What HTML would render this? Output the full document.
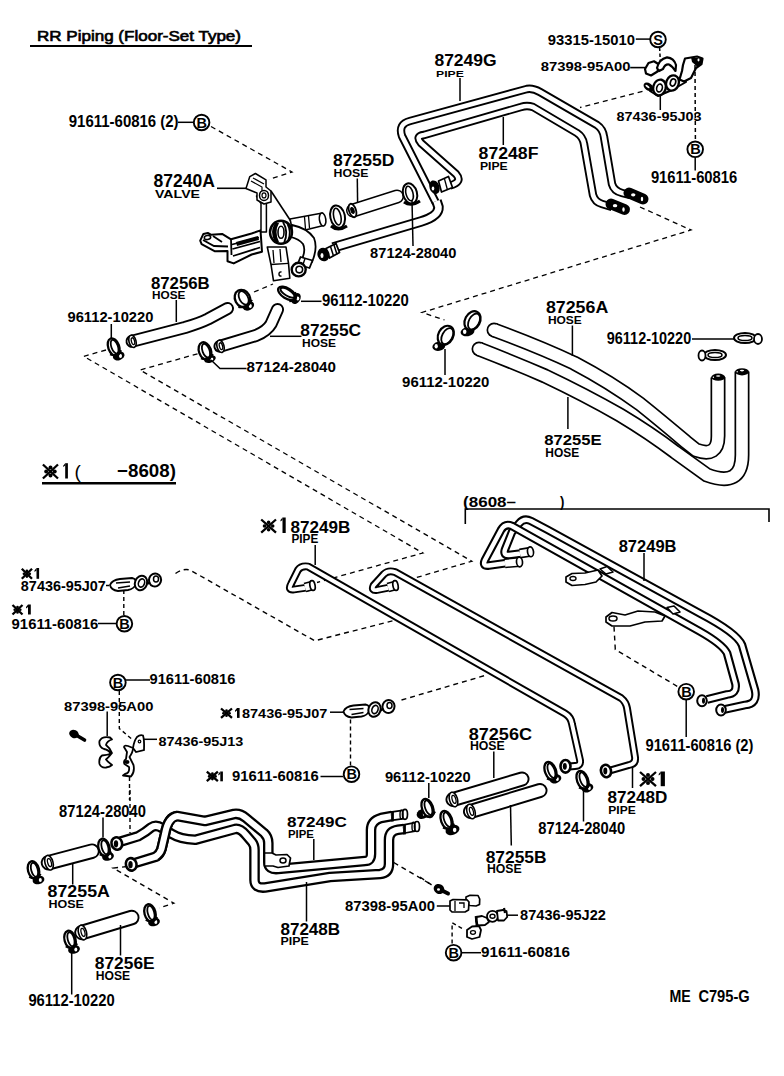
<!DOCTYPE html>
<html><head><meta charset="utf-8"><style>
html,body{margin:0;padding:0;background:#fff;}
body{width:784px;height:1076px;overflow:hidden;position:relative;}
svg{position:absolute;left:0;top:0;}
text{font-family:"Liberation Sans",sans-serif;font-weight:bold;fill:#000;}
.k path{stroke:#000;stroke-width:2.3;fill:none;}
.c{fill:#fff;stroke:#000;stroke-width:1.9;}
.ct{font-size:14.5px;}
</style></head><body>
<svg width="784" height="1076" viewBox="0 0 784 1076">
<g id="art">
<path d="M30 46H252" stroke="#000" stroke-width="2.2" fill="none"/>
<text x="37" y="40.5" font-size="14.8" textLength="204" lengthAdjust="spacingAndGlyphs" style="font-weight:normal;stroke:#000;stroke-width:0.65">RR Piping (Floor-Set Type)</text>
<path d="M436,203 L402,136 Q398,124 410,121 L527,89 Q533,88 540,92 L597,125 Q603,129 604,137 L612,184 Q614,191 622,193 L630,195" stroke="#000" stroke-width="8.4" fill="none" stroke-linejoin="round" stroke-linecap="butt"/>
<path d="M436,203 L402,136 Q398,124 410,121 L527,89 Q533,88 540,92 L597,125 Q603,129 604,137 L612,184 Q614,191 622,193 L630,195" stroke="#fff" stroke-width="4.6" fill="none" stroke-linejoin="round" stroke-linecap="butt"/>
<path d="M450,185.5 Q463,182 456,174 L421,143 Q415,136 424,135 L521,107 Q527,105 533,107 L577,133 Q583,137 584,144 L593,195 Q595,202 602,204 L612,207" stroke="#000" stroke-width="8.4" fill="none" stroke-linejoin="round" stroke-linecap="butt"/>
<path d="M450,185.5 Q463,182 456,174 L421,143 Q415,136 424,135 L521,107 Q527,105 533,107 L577,133 Q583,137 584,144 L593,195 Q595,202 602,204 L612,207" stroke="#fff" stroke-width="4.6" fill="none" stroke-linejoin="round" stroke-linecap="butt"/>
<path d="M333,247.5 L421,221.5 Q439,216 438.5,207 L436.5,201" stroke="#000" stroke-width="10.5" fill="none" stroke-linejoin="round" stroke-linecap="butt"/>
<path d="M333,247.5 L421,221.5 Q439,216 438.5,207 L436.5,201" stroke="#fff" stroke-width="6.6" fill="none" stroke-linejoin="round" stroke-linecap="butt"/>
<path d="M217,188.3 H247" stroke="#000" stroke-width="1.6" fill="none"/>
<path d="M203.4,233.9 L207.8,233 L211.4,234.8 L222.1,233.9 L231,239.3 L251.6,233.5 L260.5,230.4 L262,251.8 L251.6,254.5 L233.7,263.4 L227.5,261.2 L227.5,250.9 L215,251.3 L201.6,244.2 L200.2,240.6 Z" stroke="#000" stroke-width="2" fill="#fff" stroke-linejoin="round"/>
<path d="M231,239.3 L231.5,255 M232,244.5 L259,237.5 M232.5,249 L260,241.5 M233,256 L260,247.5 M203,240 L214,246 L228,246.5 M213,236 L222,242" stroke="#000" stroke-width="1.8" fill="none"/>
<ellipse cx="207.5" cy="237.5" rx="3.2" ry="2" transform="rotate(-10 207.5 237.5)" stroke="#000" stroke-width="1.6" fill="#fff"/>
<path d="M236,242 L258,236 L259,240 L237,246 Z" fill="#000"/>
<path d="M256.5,196 L261,203.5 L261,232 L266.4,232 L266.4,203 L262,196 Z" stroke="#000" stroke-width="1.5" fill="#fff" stroke-linejoin="round"/>
<path d="M249.8,176.6 L255.4,173.5 L266,179.8 L266,187 L271,191 L271,202 L264,204 L257,200 L257,193 L246,188.5 Z" stroke="#000" stroke-width="1.5" fill="#fff" stroke-linejoin="round"/>
<path d="M251,181 L262,187 L262,199 M253,178 L264,184" stroke="#000" stroke-width="1.2" fill="none"/>
<ellipse cx="264" cy="195.4" rx="4.5" ry="5" transform="rotate(0 264 195.4)" stroke="#000" stroke-width="1.5" fill="#fff"/>
<ellipse cx="264" cy="195.4" rx="2" ry="2.5" transform="rotate(0 264 195.4)" stroke="#000" stroke-width="1.2" fill="#fff"/>
<path d="M271,191 L296,229" stroke="#000" stroke-width="1.6" fill="none"/>
<path d="M290,219 L322.5,213 L323.5,225.5 L293,233 Z" stroke="#000" stroke-width="1.6" fill="#fff" stroke-linejoin="round"/>
<ellipse cx="322.6" cy="219.5" rx="3.2" ry="6.5" transform="rotate(-8 322.6 219.5)" stroke="#000" stroke-width="1.6" fill="#fff"/>
<path d="M304.5,217 L305.5,229 M308.5,216 L309.5,228" stroke="#000" stroke-width="1.3" fill="none"/>
<path d="M292,225 Q307,228 314,238 Q318,248 312,262 L302,259 Q306,250 303,244 Q299,239 291,237 Z" fill="#fff" stroke="#000" stroke-width="1.8" stroke-linejoin="round"/>
<path d="M300.5,257 L312.5,260.5 L309.5,268 L297.5,264.5 Z" stroke="#000" stroke-width="1.8" fill="#fff" stroke-linejoin="round"/>
<path d="M305,258.5 L302.5,266" stroke="#000" stroke-width="1.4" fill="none"/>
<ellipse cx="298.7" cy="269.6" rx="7" ry="6.8" transform="rotate(0 298.7 269.6)" stroke="#000" stroke-width="2.4" fill="#fff"/>
<ellipse cx="299.3" cy="269.6" rx="3.3" ry="3.3" transform="rotate(0 299.3 269.6)" stroke="#000" stroke-width="1.6" fill="#fff"/>
<ellipse cx="281" cy="232.3" rx="11" ry="11.5" transform="rotate(0 281 232.3)" stroke="#000" stroke-width="2.4" fill="#fff"/>
<path d="M275,223 Q269,232 275,242 L279,242 Q274,232 279,223 Z" fill="#000"/>
<path d="M283,222 Q289,232 284,243 M287.5,224 Q292,232 288,241" stroke="#000" stroke-width="1.8" fill="none"/>
<ellipse cx="281" cy="232.3" rx="3" ry="6" transform="rotate(0 281 232.3)" stroke="#000" stroke-width="1.6" fill="#fff"/>
<path d="M267.3,247 L286,247 L288.5,263.3 L289.8,278.3 L273.5,280.8 L271,264.5 Z" stroke="#000" stroke-width="1.6" fill="#fff" stroke-linejoin="round"/>
<path d="M271,264.5 L288.5,263.3 M273,250 L274,263 M280,249 L281,262" stroke="#000" stroke-width="1.3" fill="none"/>
<path d="M281.5,272 Q279,271.5 279,274 Q279,276.5 281.5,276" stroke="#000" stroke-width="1.5" fill="none"/>
<path d="M326,248.5 L336,243.5 L339.5,252.5 L329.5,258 Z" stroke="#000" stroke-width="1.8" fill="#fff" stroke-linejoin="round"/>
<path d="M330.5,246.5 L333.5,256 M334,245 L337,254.5" stroke="#000" stroke-width="1.5" fill="none"/>
<ellipse cx="323.5" cy="254.5" rx="6" ry="6.8" transform="rotate(-20 323.5 254.5)" fill="#000"/>
<ellipse cx="322" cy="255.5" rx="1.5" ry="2.5" fill="#fff"/>
<ellipse cx="337.6" cy="216.6" rx="7.3" ry="11.3" transform="rotate(-12 337.6 216.6)" stroke="#000" stroke-width="2" fill="#fff"/>
<ellipse cx="337.3" cy="216.6" rx="3.6" ry="8.5" transform="rotate(-12 337.3 216.6)" stroke="#000" stroke-width="1.6" fill="#fff"/>
<path d="M331,226 Q338,232 347,226" stroke="#000" stroke-width="3" fill="none"/>
<path d="M353,210.5 L397,196.5" stroke="#000" stroke-width="14" fill="none" stroke-linejoin="round" stroke-linecap="round"/>
<path d="M353,210.5 L397,196.5" stroke="#fff" stroke-width="11" fill="none" stroke-linejoin="round" stroke-linecap="round"/>
<ellipse cx="352.5" cy="210.5" rx="3.5" ry="7" transform="rotate(-18 352.5 210.5)" stroke="#000" stroke-width="1.8" fill="#fff"/>
<ellipse cx="352.5" cy="210.5" rx="1.5" ry="3" transform="rotate(-18 352.5 210.5)" stroke="#000" stroke-width="1.2" fill="#000"/>
<ellipse cx="410" cy="193.5" rx="7" ry="10.3" transform="rotate(-15 410 193.5)" stroke="#000" stroke-width="2" fill="#fff"/>
<ellipse cx="409.5" cy="193.5" rx="3.5" ry="7.5" transform="rotate(-15 409.5 193.5)" stroke="#000" stroke-width="1.6" fill="#fff"/>
<path d="M404,202 Q411,207 420,201" stroke="#000" stroke-width="3" fill="none"/>
<path d="M412,200 L413,246" stroke="#000" stroke-width="1.5" fill="none"/>
<path d="M211,126.5 L292,172 L269,179.5" stroke="#000" stroke-width="1.3" fill="none" stroke-dasharray="5 4"/>
<path d="M106,350 L83.7,356.3 L422.9,553 L317,582.5" stroke="#000" stroke-width="1.3" fill="none" stroke-dasharray="5 4"/>
<path d="M197.5,353.8 L140,370 L471.8,561.2 L416.7,577.5" stroke="#000" stroke-width="1.3" fill="none" stroke-dasharray="5 4"/>
<path d="M642.5,91.3 L580,107.5" stroke="#000" stroke-width="1.3" fill="none" stroke-dasharray="5 4"/>
<path d="M640,207 L691,230 L422,312.5 L444.5,320" stroke="#000" stroke-width="1.3" fill="none" stroke-dasharray="5 4"/>
<path d="M254,292 L273,284" stroke="#000" stroke-width="1.3" fill="none" stroke-dasharray="5 4"/>
<path d="M357.3,178.5 L357.6,203" stroke="#000" stroke-width="1.5" fill="none"/>
<path d="M132,341.3 Q160,334 185,327.5 Q200,323 208,319 L227.5,308.5" stroke="#000" stroke-width="13" fill="none" stroke-linejoin="round" stroke-linecap="round"/>
<path d="M132,341.3 Q160,334 185,327.5 Q200,323 208,319 L227.5,308.5" stroke="#fff" stroke-width="9.2" fill="none" stroke-linejoin="round" stroke-linecap="round"/>
<ellipse cx="132.5" cy="341.3" rx="3.5" ry="6.3" transform="rotate(-15 132.5 341.3)" fill="#fff" stroke="#000" stroke-width="1.6"/>
<ellipse cx="133.0" cy="341.3" rx="1.575" ry="3.4650000000000003" transform="rotate(-15 132.5 341.3)" fill="none" stroke="#000" stroke-width="1.3"/>
<path d="M176.3,300 L176.3,322" stroke="#000" stroke-width="1.5" fill="none"/>
<path d="M220,346.3 L256,335.5 Q267,331 271,324 L277.5,309.5" stroke="#000" stroke-width="13" fill="none" stroke-linejoin="round" stroke-linecap="round"/>
<path d="M220,346.3 L256,335.5 Q267,331 271,324 L277.5,309.5" stroke="#fff" stroke-width="9.2" fill="none" stroke-linejoin="round" stroke-linecap="round"/>
<ellipse cx="220.5" cy="346.3" rx="3.5" ry="6.3" transform="rotate(-15 220.5 346.3)" fill="#fff" stroke="#000" stroke-width="1.6"/>
<ellipse cx="221.0" cy="346.3" rx="1.575" ry="3.4650000000000003" transform="rotate(-15 220.5 346.3)" fill="none" stroke="#000" stroke-width="1.3"/>
<path d="M270,336.3 L301.5,336.3" stroke="#000" stroke-width="1.5" fill="none"/>
<ellipse cx="248.5" cy="306.0" rx="6.0" ry="4.2" transform="rotate(-28 248.5 306.0)" fill="#000"/>
<ellipse cx="250.3" cy="306.0" rx="1.5" ry="1.8900000000000001" fill="#fff"/>
<g transform="rotate(-28 242.5 298.5)"><ellipse cx="242.5" cy="298.5" rx="7.5" ry="9" fill="#fff" stroke="#000" stroke-width="2.3"/><ellipse cx="243.775" cy="298.5" rx="4.25" ry="7.199999999999999" fill="none" stroke="#000" stroke-width="1.8"/><path d="M234.85,304.0 Q242.5,309.5 250.15,304.0" fill="none" stroke="#000" stroke-width="2.2"/></g>
<ellipse cx="296" cy="298.5" rx="6.0" ry="4.2" transform="rotate(-58 296 298.5)" fill="#000"/>
<ellipse cx="297.8" cy="298.5" rx="1.5" ry="1.8900000000000001" fill="#fff"/>
<g transform="rotate(-58 287 293.5)"><ellipse cx="287" cy="293.5" rx="5" ry="10" fill="#fff" stroke="#000" stroke-width="2.3"/><ellipse cx="287.9" cy="293.5" rx="3.0" ry="7.92" fill="none" stroke="#000" stroke-width="1.8"/><path d="M281.6,299.55 Q287,305.6 292.4,299.55" fill="none" stroke="#000" stroke-width="2.2"/></g>
<path d="M301,301.3 L321.5,301.3" stroke="#000" stroke-width="1.5" fill="none"/>
<ellipse cx="210" cy="359" rx="6.0" ry="3.5999999999999996" transform="rotate(-20 210 359)" fill="#000"/>
<ellipse cx="211.8" cy="359" rx="1.5" ry="1.6199999999999999" fill="#fff"/>
<g transform="rotate(-20 205 351)"><ellipse cx="205" cy="351" rx="6" ry="9" fill="#fff" stroke="#000" stroke-width="2.3"/><ellipse cx="206.05" cy="351" rx="3.5" ry="7.199999999999999" fill="none" stroke="#000" stroke-width="1.8"/><path d="M198.7,356.5 Q205,362.0 211.3,356.5" fill="none" stroke="#000" stroke-width="2.2"/></g>
<path d="M211,360 L220,368.5 L246.5,368.5" stroke="#000" stroke-width="1.5" fill="none"/>
<ellipse cx="118.7" cy="356" rx="6.0" ry="4.2" transform="rotate(-20 118.7 356)" fill="#000"/>
<ellipse cx="120.5" cy="356" rx="1.5" ry="1.8900000000000001" fill="#fff"/>
<g transform="rotate(-20 113.7 347)"><ellipse cx="113.7" cy="347" rx="5.5" ry="9" fill="#fff" stroke="#000" stroke-width="2.3"/><ellipse cx="114.675" cy="347" rx="3.25" ry="7.199999999999999" fill="none" stroke="#000" stroke-width="1.8"/><path d="M107.85000000000001,352.5 Q113.7,358.0 119.55,352.5" fill="none" stroke="#000" stroke-width="2.2"/></g>
<path d="M111.3,324 L111.3,339" stroke="#000" stroke-width="1.5" fill="none"/>
<circle cx="494" cy="330" r="7.5" fill="#000"/><circle cx="479" cy="349" r="7.5" fill="#000"/>
<path d="M742,371.5 L742,455 Q742,488 707,475 L675,452 Q650,433 620,415 Q585,395 545,376 Q515,363 479,349" stroke="#000" stroke-width="15" fill="none"/>
<circle cx="479" cy="349" r="5.8" fill="#fff"/>
<path d="M742,371.5 L742,455 Q742,488 707,475 L675,452 Q650,433 620,415 Q585,395 545,376 Q515,363 479,349" stroke="#fff" stroke-width="11.6" fill="none"/>
<path d="M718,377.5 L718,436 Q718,458 696,450 L686,442 Q660,420 640,404 Q610,382 574,363 Q540,347 494,330" stroke="#000" stroke-width="15" fill="none"/>
<circle cx="494" cy="330" r="5.8" fill="#fff"/>
<path d="M718,377.5 L718,436 Q718,458 696,450 L686,442 Q660,420 640,404 Q610,382 574,363 Q540,347 494,330" stroke="#fff" stroke-width="11.6" fill="none"/>
<ellipse cx="718.2" cy="377.2" rx="7" ry="3.6" fill="#000"/>
<ellipse cx="718.2" cy="376.0" rx="2.2" ry="0.8" fill="#fff"/>
<ellipse cx="713.4000000000001" cy="377.2" rx="0.7" ry="0.8" fill="#fff"/>
<ellipse cx="742" cy="371.8" rx="7" ry="3.6" fill="#000"/>
<ellipse cx="742" cy="370.6" rx="2.2" ry="0.8" fill="#fff"/>
<ellipse cx="737.2" cy="371.8" rx="0.7" ry="0.8" fill="#fff"/>
<path d="M572.4,325.5 L572.4,356" stroke="#000" stroke-width="1.5" fill="none"/>
<path d="M567.9,397 L567.9,429" stroke="#000" stroke-width="1.5" fill="none"/>
<ellipse cx="438.8" cy="346.3" rx="6.5" ry="4.5" transform="rotate(-10 438.8 346.3)" fill="#000"/>
<ellipse cx="436.2" cy="346.3" rx="1.625" ry="2.25" fill="#fff"/>
<g transform="rotate(28 445.8 335.3)"><ellipse cx="445.8" cy="335.3" rx="7.5" ry="10" fill="#fff" stroke="#000" stroke-width="2.2"/><ellipse cx="447.5" cy="335.3" rx="5.1" ry="8.58" fill="none" stroke="#000" stroke-width="1.8"/></g>
<ellipse cx="467.5" cy="331.7" rx="7" ry="4.5" transform="rotate(-10 467.5 331.7)" fill="#000"/>
<ellipse cx="464.7" cy="331.7" rx="1.75" ry="2.25" fill="#fff"/>
<g transform="rotate(28 472.5 320.7)"><ellipse cx="472.5" cy="320.7" rx="7.5" ry="10" fill="#fff" stroke="#000" stroke-width="2.2"/><ellipse cx="474.2" cy="320.7" rx="5.1" ry="8.58" fill="none" stroke="#000" stroke-width="1.8"/></g>
<path d="M445,349 L445,375" stroke="#000" stroke-width="1.5" fill="none"/>
<ellipse cx="745" cy="338" rx="11" ry="5" fill="#fff" stroke="#000" stroke-width="2"/>
<ellipse cx="745" cy="338" rx="7" ry="2.5" fill="none" stroke="#000" stroke-width="1.5"/>
<ellipse cx="758" cy="339" rx="4" ry="5" fill="#fff" stroke="#000" stroke-width="1.8"/>
<ellipse cx="715" cy="355" rx="11" ry="5" fill="#fff" stroke="#000" stroke-width="2"/>
<ellipse cx="715" cy="355" rx="7" ry="2.5" fill="none" stroke="#000" stroke-width="1.5"/>
<ellipse cx="702" cy="355.5" rx="3.5" ry="5" fill="#fff" stroke="#000" stroke-width="1.8"/>
<path d="M692,339 L734,339" stroke="#000" stroke-width="1.5" fill="none"/>
<path d="M635.8,39.1 L650,39.1" stroke="#000" stroke-width="1.5" fill="none"/>
<path d="M659.6,47.5 L660.3,61" stroke="#000" stroke-width="1.5" fill="none" stroke-dasharray="3.5 2.5"/>
<path d="M630.2,67.6 L645,67.6" stroke="#000" stroke-width="1.6" fill="none"/>
<path d="M645,69 L648.5,63 L654,61.3 L659,64.5 L657.5,71.5 L651,75.5 L646,73.5 Z" fill="#fff" stroke="#000" stroke-width="2.2" stroke-linejoin="round"/>
<path d="M657,68 Q659,59 667,57.3 Q674,58 676,65 L675.5,71 Q672,66 669,64.5 Q665,64 663,69 L659,71 Z" fill="#fff" stroke="#000" stroke-width="2.2" stroke-linejoin="round"/>
<path d="M657,69 L662,70 L659,72 Z" fill="#000"/>
<path d="M650,91 L676,80 L684,75 L686,82 L672,90 L658,96 Z" fill="#fff" stroke="#000" stroke-width="2" stroke-linejoin="round"/>
<ellipse cx="648.3" cy="86.8" rx="5.2" ry="3.6" transform="rotate(35 648.3 86.8)" fill="#000"/>
<ellipse cx="647.5" cy="86.5" rx="2.4" ry="0.9" transform="rotate(35 647.5 86.5)" fill="#fff"/>
<ellipse cx="659.5" cy="87.5" rx="6.3" ry="8" transform="rotate(15 659.5 87.5)" stroke="#000" stroke-width="2.4" fill="#fff"/>
<ellipse cx="659.5" cy="88" rx="2.8" ry="4" transform="rotate(15 659.5 88)" stroke="#000" stroke-width="1.6" fill="#fff"/>
<ellipse cx="672.5" cy="83" rx="6.3" ry="7.8" transform="rotate(20 672.5 83)" stroke="#000" stroke-width="2.4" fill="#fff"/>
<ellipse cx="673" cy="82.5" rx="2.6" ry="3.6" transform="rotate(20 673 82.5)" stroke="#000" stroke-width="1.6" fill="#fff"/>
<path d="M683,65 L685,58.5 L697,56.5 L702.5,58.5 L701.5,64 L696,68 L691,78 L684,81.5 L679.5,79.5 L682,71 Z" fill="#fff" stroke="#000" stroke-width="2.2" stroke-linejoin="round"/>
<path d="M691,57.2 L702.5,58.5 L702,64 L697,66.5 L692,62 Z" fill="#000"/>
<ellipse cx="698.5" cy="60" rx="1" ry="1.4" fill="#fff"/>
<path d="M660.3,94.5 L660.3,110" stroke="#000" stroke-width="1.5" fill="none"/>
<path d="M695,65 L695.4,140" stroke="#000" stroke-width="1.5" fill="none" stroke-dasharray="4 3"/>
<path d="M695.2,157.5 L695.2,170.5" stroke="#000" stroke-width="1.5" fill="none"/>
<path d="M629,193 L643,199" stroke="#000" stroke-width="11" stroke-linecap="round"/>
<ellipse cx="633.2" cy="194.8" rx="2.2" ry="1.6" fill="#fff"/>
<ellipse cx="642" cy="199" rx="1.2" ry="2.2" fill="#fff"/>
<path d="M611,204 L624.5,209.5" stroke="#000" stroke-width="11" stroke-linecap="round"/>
<ellipse cx="615.05" cy="205.65" rx="2.2" ry="1.6" fill="#fff"/>
<ellipse cx="623.5" cy="209.5" rx="1.2" ry="2.2" fill="#fff"/>
<path d="M438.5,181 L448.5,176.5 L452.5,187.5 L441.5,192 Z" stroke="#000" stroke-width="1.7" fill="#fff" stroke-linejoin="round"/>
<path d="M444.5,179 L447.5,190" stroke="#000" stroke-width="1.3" fill="none"/>
<ellipse cx="434.5" cy="187.2" rx="5" ry="7" transform="rotate(-20 434.5 187.2)" fill="#000"/>
<ellipse cx="433" cy="188.5" rx="1.3" ry="2" fill="#fff"/>
<path d="M311,587 L294,589.5 Q287.5,590.5 291,584 L298,570 Q301,565.5 308,566.5 L565,713.5 Q571,717 572,724 L580,760 Q581,766 575,766 L569,766.5" stroke="#000" stroke-width="7.8" fill="none" stroke-linejoin="round" stroke-linecap="butt"/>
<path d="M311,587 L294,589.5 Q287.5,590.5 291,584 L298,570 Q301,565.5 308,566.5 L565,713.5 Q571,717 572,724 L580,760 Q581,766 575,766 L569,766.5" stroke="#fff" stroke-width="3.9" fill="none" stroke-linejoin="round" stroke-linecap="butt"/>
<path d="M394.5,586.5 L377,590 Q371,591 373.5,585.5 L384,574 Q388,570 395,572 L621,698 Q626,702 627,708 L635,757 Q636,764 629,765 L610,770.5" stroke="#000" stroke-width="7.8" fill="none" stroke-linejoin="round" stroke-linecap="butt"/>
<path d="M394.5,586.5 L377,590 Q371,591 373.5,585.5 L384,574 Q388,570 395,572 L621,698 Q626,702 627,708 L635,757 Q636,764 629,765 L610,770.5" stroke="#fff" stroke-width="3.9" fill="none" stroke-linejoin="round" stroke-linecap="butt"/>
<path d="M305,587.5 L312.5,585.5" stroke="#000" stroke-width="10" stroke-linecap="butt"/>
<path d="M305,587.5 L312.5,585.5" stroke="#fff" stroke-width="6.8" stroke-linecap="butt"/>
<ellipse cx="312.5" cy="585.5" rx="2.6" ry="5" transform="rotate(-10 312.5 585.5)" fill="#fff" stroke="#000" stroke-width="1.7"/>
<path d="M388,587.5 L395.5,585.5" stroke="#000" stroke-width="10" stroke-linecap="butt"/>
<path d="M388,587.5 L395.5,585.5" stroke="#fff" stroke-width="6.8" stroke-linecap="butt"/>
<ellipse cx="395.5" cy="585.5" rx="2.6" ry="5" transform="rotate(-10 395.5 585.5)" fill="#fff" stroke="#000" stroke-width="1.7"/>
<ellipse cx="565.5" cy="766.3" rx="5" ry="6.3" fill="#fff" stroke="#000" stroke-width="2.6"/>
<ellipse cx="564.8" cy="766.3" rx="2" ry="3.4" fill="#000"/>
<ellipse cx="606" cy="771" rx="5" ry="6.3" transform="rotate(-15 606 771)" fill="#fff" stroke="#000" stroke-width="2.6"/>
<ellipse cx="605.3" cy="771" rx="2" ry="3.4" fill="#000"/>
<path d="M315.2,545 L315.2,565" stroke="#000" stroke-width="1.5" fill="none"/>
<path d="M632.5,767 L632.5,788" stroke="#000" stroke-width="1.5" fill="none"/>
<path d="M521,553.5 L509,555 Q503,555.5 505,549.5 L512,532 L519,523.5 Q524,517.5 531,521 L548,530 L700,613.5 Q737,633 742,645 L755,690 Q758,704 745,705 L722,710" stroke="#000" stroke-width="8.6" fill="none" stroke-linejoin="round" stroke-linecap="butt"/>
<path d="M521,553.5 L509,555 Q503,555.5 505,549.5 L512,532 L519,523.5 Q524,517.5 531,521 L548,530 L700,613.5 Q737,633 742,645 L755,690 Q758,704 745,705 L722,710" stroke="#fff" stroke-width="4.4" fill="none" stroke-linejoin="round" stroke-linecap="butt"/>
<path d="M507,563 L489,565.5 Q482,566.5 485,560 L501,530 Q505,523 512,526 L700,631.5 Q722,644 727,653 L735.5,684 Q737,694 727,694.5 L707,699.5" stroke="#000" stroke-width="8.6" fill="none" stroke-linejoin="round" stroke-linecap="butt"/>
<path d="M507,563 L489,565.5 Q482,566.5 485,560 L501,530 Q505,523 512,526 L700,631.5 Q722,644 727,653 L735.5,684 Q737,694 727,694.5 L707,699.5" stroke="#fff" stroke-width="4.4" fill="none" stroke-linejoin="round" stroke-linecap="butt"/>
<path d="M505,563.3 L519.5,562" stroke="#000" stroke-width="10" stroke-linecap="butt"/>
<path d="M505,563.3 L519.5,562" stroke="#fff" stroke-width="6.8" stroke-linecap="butt"/>
<ellipse cx="519.5" cy="562" rx="3" ry="4.8" transform="rotate(-5 519.5 562)" fill="#fff" stroke="#000" stroke-width="1.7"/>
<path d="M520,553.5 L530.5,551.8" stroke="#000" stroke-width="10" stroke-linecap="butt"/>
<path d="M520,553.5 L530.5,551.8" stroke="#fff" stroke-width="6.8" stroke-linecap="butt"/>
<ellipse cx="530.5" cy="551.8" rx="3" ry="5" transform="rotate(-8 530.5 551.8)" fill="#fff" stroke="#000" stroke-width="1.7"/>
<ellipse cx="702" cy="700.8" rx="4.8" ry="5.5" fill="#fff" stroke="#000" stroke-width="2"/>
<ellipse cx="703.5" cy="700.8" rx="1.5" ry="3" fill="#000"/>
<ellipse cx="721" cy="710" rx="4.8" ry="5.5" fill="#fff" stroke="#000" stroke-width="2"/>
<ellipse cx="722.5" cy="710" rx="1.5" ry="3" fill="#000"/>
<path d="M566,577 L572,573.5 L585,573 L598,570 L602,576 L596,582 L585,584.5 L572,585.5 L566,582 Z" stroke="#000" stroke-width="1.7" fill="#fff" stroke-linejoin="round"/>
<ellipse cx="573" cy="578.5" rx="3" ry="2" fill="none" stroke="#000" stroke-width="1.4"/>
<path d="M606,617 L612,612.5 L625,615 L638,611 L655,612 L665,616 L662,621 L645,622 L630,626 L612,626 L606,622 Z" stroke="#000" stroke-width="1.7" fill="#fff" stroke-linejoin="round"/>
<ellipse cx="613" cy="618.5" rx="4" ry="2.5" fill="none" stroke="#000" stroke-width="1.5"/>
<path d="M667,607.5 L674,606 L680,612 L673,614 Z" stroke="#000" stroke-width="1.6" fill="#fff" stroke-linejoin="round"/>
<path d="M600,569 L607,566.5 L613,572 L606,574 Z" stroke="#000" stroke-width="1.6" fill="#fff" stroke-linejoin="round"/>
<path d="M644,553 L644,581" stroke="#000" stroke-width="1.5" fill="none"/>
<path d="M465.3,524 L465.3,509 L769,509 L769,522" stroke="#000" stroke-width="1.6" fill="none"/>
<path d="M42,483.3 H176" stroke="#000" stroke-width="2.6" fill="none"/>
<text x="74.5" y="477.5" font-size="19" style="font-weight:normal">(</text>
<g transform="translate(343.5,711.5) scale(1.0)"><path d="M0,0 Q2,-5 10,-6 L22,-7 Q27,-6 26,-1 Q24,4 18,5 L8,6 Q1,5 0,0 Z" fill="#fff" stroke="#000" stroke-width="1.8"/><path d="M6,-2 L20,-3 M8,3 L20,1" stroke="#000" stroke-width="1.4" fill="none"/><ellipse cx="31" cy="-2" rx="6" ry="7.5" transform="rotate(20 31 -2)" fill="#fff" stroke="#000" stroke-width="2"/><ellipse cx="31.5" cy="-2" rx="3" ry="4.2" transform="rotate(20 31.5 -2)" fill="#fff" stroke="#000" stroke-width="1.6"/><ellipse cx="45" cy="-5" rx="6" ry="6.5" transform="rotate(20 45 -5)" fill="#fff" stroke="#000" stroke-width="2"/><ellipse cx="46" cy="-6" rx="2.5" ry="3" fill="#fff" stroke="#000" stroke-width="1.5"/><path d="M37,-1 L40,-3" stroke="#000" stroke-width="2.5"/></g>
<g transform="translate(110,585) scale(1.0)"><path d="M0,0 Q2,-5 10,-6 L22,-7 Q27,-6 26,-1 Q24,4 18,5 L8,6 Q1,5 0,0 Z" fill="#fff" stroke="#000" stroke-width="1.8"/><path d="M6,-2 L20,-3 M8,3 L20,1" stroke="#000" stroke-width="1.4" fill="none"/><ellipse cx="31" cy="-2" rx="6" ry="7.5" transform="rotate(20 31 -2)" fill="#fff" stroke="#000" stroke-width="2"/><ellipse cx="31.5" cy="-2" rx="3" ry="4.2" transform="rotate(20 31.5 -2)" fill="#fff" stroke="#000" stroke-width="1.6"/><ellipse cx="45" cy="-5" rx="6" ry="6.5" transform="rotate(20 45 -5)" fill="#fff" stroke="#000" stroke-width="2"/><ellipse cx="46" cy="-6" rx="2.5" ry="3" fill="#fff" stroke="#000" stroke-width="1.5"/><path d="M37,-1 L40,-3" stroke="#000" stroke-width="2.5"/></g>
<path d="M330,712.2 L343,712.2" stroke="#000" stroke-width="1.5" fill="none"/>
<path d="M106,585.5 L109,585.5" stroke="#000" stroke-width="1.5" fill="none"/>
<path d="M401.5,700 L485,675.5" stroke="#000" stroke-width="1.4" fill="none" stroke-dasharray="5 4"/>
<path d="M350.5,719.5 L350.5,765.5" stroke="#000" stroke-width="1.4" fill="none" stroke-dasharray="4 3"/>
<path d="M123.8,590 L123.8,615" stroke="#000" stroke-width="1.4" fill="none" stroke-dasharray="4 3"/>
<path d="M175.5,573.5 Q183,568 190,570 L314.7,640.8 L394.3,620.4" stroke="#000" stroke-width="1.4" fill="none" stroke-dasharray="5 4"/>
<path d="M614,626.6 L615.3,649.5 L677.2,686.3" stroke="#000" stroke-width="1.4" fill="none" stroke-dasharray="5 4"/>
<path d="M320.5,776.5 L343,776.5" stroke="#000" stroke-width="1.5" fill="none"/>
<path d="M98,623.5 L116,623.5" stroke="#000" stroke-width="1.5" fill="none"/>
<path d="M686.2,699.5 L686.2,737" stroke="#000" stroke-width="1.5" fill="none"/>
<path d="M126,680 L150,680" stroke="#000" stroke-width="1.5" fill="none"/>
<g><ellipse cx="74" cy="734" rx="5" ry="4" transform="rotate(25 74 734)" fill="#000"/><path d="M76,735 L84.5,740" stroke="#000" stroke-width="3.6" stroke-linecap="round"/></g>
<path d="M110,737.5 Q102,736 99.5,741 Q98.5,747 104,749 Q109,750 110.5,753.5 Q108,755 102,755.5 Q98.5,758 99.5,764 Q101,768 106,767.5 Q110,767 112,765 Q108,762 106,759.5 Q109,757 112,753 Q110,748 106,745 Q107,741 112,739.5 Z" fill="#fff" stroke="#000" stroke-width="1.8" stroke-linejoin="round"/>
<path d="M107.2,711.5 L107.2,736" stroke="#000" stroke-width="1.5" fill="none"/>
<path d="M137,737 Q140,734.5 143,735.5 Q144.5,740 144,750 L136,752 L133,748 Q134,741 137,737 Z" fill="#fff" stroke="#000" stroke-width="1.8"/>
<circle cx="139.5" cy="741.5" r="1.3" fill="none" stroke="#000" stroke-width="1.2"/>
<path d="M128,746 Q124,745 124,747 L127,752 L126,759 Q123,761 124.5,764 L129,767 Q130,773 125,774 L123,775.5 L131,776.5 Q135,772 133.5,765 Q131,760 129.5,757 Q133,752 133,748 Z" fill="#fff" stroke="#000" stroke-width="1.8" stroke-linejoin="round"/>
<ellipse cx="127" cy="762" rx="2.5" ry="2" fill="#000"/>
<path d="M143.5,739.3 L157,739.3" stroke="#000" stroke-width="1.5" fill="none"/>
<path d="M119.3,691 L119.3,728.5 L131.4,738.7" stroke="#000" stroke-width="1.4" fill="none" stroke-dasharray="4 3"/>
<path d="M129.5,777 L129.5,800" stroke="#000" stroke-width="1.4" fill="none" stroke-dasharray="4 3"/>
<path d="M120.5,841.6 L138,836.3 Q146,832 151,827.5 Q156,824 162,828 L172,834 Q180,839 195,839.8 L235,829 Q240,828 246,835 L252,842 Q254.5,845 254.5,850 L254.5,880 Q254.5,888.5 265,887.5 L330,877 L380,874 Q389,873 389,864 L389,840 Q389,831 398,829.8 L404,829" stroke="#000" stroke-width="10.6" fill="none" stroke-linejoin="round" stroke-linecap="butt"/>
<path d="M120.5,841.6 L138,836.3 Q146,832 151,827.5 Q156,824 162,828 L172,834 Q180,839 195,839.8 L235,829 Q240,828 246,835 L252,842 Q254.5,845 254.5,850 L254.5,880 Q254.5,888.5 265,887.5 L330,877 L380,874 Q389,873 389,864 L389,840 Q389,831 398,829.8 L404,829" stroke="#fff" stroke-width="6.0" fill="none" stroke-linejoin="round" stroke-linecap="butt"/>
<path d="M135,863 L156,856.7 Q160,854 161.5,849 L165,834 Q168,817 177,816 L205,821 L234,814 Q240,813 246,818 L264,833 Q268.3,837 268.3,843 L268.3,862 Q268.3,870 278,869 L365,861 Q371,861 371,854 L371,830 Q371,821 381,818 L392,816" stroke="#000" stroke-width="10.6" fill="none" stroke-linejoin="round" stroke-linecap="butt"/>
<path d="M135,863 L156,856.7 Q160,854 161.5,849 L165,834 Q168,817 177,816 L205,821 L234,814 Q240,813 246,818 L264,833 Q268.3,837 268.3,843 L268.3,862 Q268.3,870 278,869 L365,861 Q371,861 371,854 L371,830 Q371,821 381,818 L392,816" stroke="#fff" stroke-width="6.0" fill="none" stroke-linejoin="round" stroke-linecap="butt"/>
<path d="M156,856.7 Q160,854 161.5,849 L165,834 Q168,817 177,816" stroke="#000" stroke-width="10.6" fill="none"/>
<path d="M155,857 Q160,854 161.5,849 L165,834 Q168,817 178,816" stroke="#fff" stroke-width="6.0" fill="none"/>
<ellipse cx="116.8" cy="843.5" rx="5.3" ry="6.3" transform="rotate(-15 116.8 843.5)" fill="#fff" stroke="#000" stroke-width="2.6"/><ellipse cx="116" cy="843.8" rx="2.2" ry="3.6" fill="#000"/>
<ellipse cx="131.2" cy="864.4" rx="5.3" ry="6.3" transform="rotate(-15 131.2 864.4)" fill="#fff" stroke="#000" stroke-width="2.6"/><ellipse cx="130.5" cy="864.7" rx="2.2" ry="3.6" fill="#000"/>
<path d="M391,816.2 L405,814.3" stroke="#000" stroke-width="10" stroke-linecap="butt"/>
<path d="M391,816.2 L405,814.3" stroke="#fff" stroke-width="6.6" stroke-linecap="butt"/>
<path d="M392.5,811.0 L392.5,821.4000000000001" stroke="#000" stroke-width="2.8"/>
<ellipse cx="405" cy="814.3" rx="2.5" ry="5.0" fill="#fff" stroke="#000" stroke-width="1.7"/>
<ellipse cx="401.5" cy="814.5999999999999" rx="1.5" ry="4.5" fill="none" stroke="#000" stroke-width="1.4"/>
<path d="M403,829.2 L417,826.5" stroke="#000" stroke-width="10" stroke-linecap="butt"/>
<path d="M403,829.2 L417,826.5" stroke="#fff" stroke-width="6.6" stroke-linecap="butt"/>
<path d="M404.5,824.0 L404.5,834.4000000000001" stroke="#000" stroke-width="2.8"/>
<ellipse cx="417" cy="826.5" rx="2.5" ry="5.0" fill="#fff" stroke="#000" stroke-width="1.7"/>
<ellipse cx="413.5" cy="826.8" rx="1.5" ry="4.5" fill="none" stroke="#000" stroke-width="1.4"/>
<path d="M264.5,853 L272,853 L276,855 L287,854.5 L290.5,858 L289,866 L278,867.5 L273,866 L264.5,866 Z" stroke="#000" stroke-width="1.7" fill="#fff" stroke-linejoin="round"/>
<ellipse cx="283" cy="860.5" rx="3" ry="2.5" fill="none" stroke="#000" stroke-width="1.5"/>
<path d="M313.8,839 L313.8,860" stroke="#000" stroke-width="1.5" fill="none"/>
<path d="M306.5,882 L306.5,921.5" stroke="#000" stroke-width="1.5" fill="none"/>
<path d="M393.8,862.5 L432,885" stroke="#000" stroke-width="1.4" fill="none" stroke-dasharray="5 4"/>
<path d="M48.5,862.7 L92,851.2" stroke="#000" stroke-width="15.5" fill="none" stroke-linejoin="round" stroke-linecap="round"/>
<path d="M48.5,862.7 L92,851.2" stroke="#fff" stroke-width="11.7" fill="none" stroke-linejoin="round" stroke-linecap="round"/>
<ellipse cx="49" cy="862.7" rx="4" ry="7.5" transform="rotate(-15 49 862.7)" fill="#fff" stroke="#000" stroke-width="1.6"/>
<ellipse cx="49.5" cy="862.7" rx="1.8" ry="4.125" transform="rotate(-15 49 862.7)" fill="none" stroke="#000" stroke-width="1.3"/>
<path d="M82,932.5 L131.8,917.5" stroke="#000" stroke-width="15.5" fill="none" stroke-linejoin="round" stroke-linecap="round"/>
<path d="M82,932.5 L131.8,917.5" stroke="#fff" stroke-width="11.7" fill="none" stroke-linejoin="round" stroke-linecap="round"/>
<ellipse cx="82.5" cy="932.5" rx="4" ry="7.5" transform="rotate(-15 82.5 932.5)" fill="#fff" stroke="#000" stroke-width="1.6"/>
<ellipse cx="83.0" cy="932.5" rx="1.8" ry="4.125" transform="rotate(-15 82.5 932.5)" fill="none" stroke="#000" stroke-width="1.3"/>
<ellipse cx="108" cy="856.5" rx="6.0" ry="4.2" transform="rotate(-15 108 856.5)" fill="#000"/>
<ellipse cx="109.8" cy="856.5" rx="1.5" ry="1.8900000000000001" fill="#fff"/>
<g transform="rotate(-15 104 847.5)"><ellipse cx="104" cy="847.5" rx="5.5" ry="9" fill="#fff" stroke="#000" stroke-width="2.3"/><ellipse cx="104.975" cy="847.5" rx="3.25" ry="7.199999999999999" fill="none" stroke="#000" stroke-width="1.8"/><path d="M98.15,853.0 Q104,858.5 109.85,853.0" fill="none" stroke="#000" stroke-width="2.2"/></g>
<ellipse cx="38.5" cy="880" rx="6.0" ry="4.2" transform="rotate(-15 38.5 880)" fill="#000"/>
<ellipse cx="40.3" cy="880" rx="1.5" ry="1.8900000000000001" fill="#fff"/>
<g transform="rotate(-15 33.5 870)"><ellipse cx="33.5" cy="870" rx="5.5" ry="9" fill="#fff" stroke="#000" stroke-width="2.3"/><ellipse cx="34.475" cy="870" rx="3.25" ry="7.199999999999999" fill="none" stroke="#000" stroke-width="1.8"/><path d="M27.65,875.5 Q33.5,881.0 39.35,875.5" fill="none" stroke="#000" stroke-width="2.2"/></g>
<ellipse cx="154" cy="922" rx="6.0" ry="4.2" transform="rotate(-15 154 922)" fill="#000"/>
<ellipse cx="155.8" cy="922" rx="1.5" ry="1.8900000000000001" fill="#fff"/>
<g transform="rotate(-15 150 913)"><ellipse cx="150" cy="913" rx="5.5" ry="9" fill="#fff" stroke="#000" stroke-width="2.3"/><ellipse cx="150.975" cy="913" rx="3.25" ry="7.199999999999999" fill="none" stroke="#000" stroke-width="1.8"/><path d="M144.15,918.5 Q150,924.0 155.85,918.5" fill="none" stroke="#000" stroke-width="2.2"/></g>
<ellipse cx="74" cy="949.5" rx="6.0" ry="4.2" transform="rotate(-15 74 949.5)" fill="#000"/>
<ellipse cx="75.8" cy="949.5" rx="1.5" ry="1.8900000000000001" fill="#fff"/>
<g transform="rotate(-15 70 939.5)"><ellipse cx="70" cy="939.5" rx="5.5" ry="9" fill="#fff" stroke="#000" stroke-width="2.3"/><ellipse cx="70.975" cy="939.5" rx="3.25" ry="7.199999999999999" fill="none" stroke="#000" stroke-width="1.8"/><path d="M64.15,945.0 Q70,950.5 75.85,945.0" fill="none" stroke="#000" stroke-width="2.2"/></g>
<path d="M103,817.5 L103,837.5" stroke="#000" stroke-width="1.5" fill="none"/>
<path d="M130,790 L130,833" stroke="#000" stroke-width="1.4" fill="none" stroke-dasharray="4 3"/>
<path d="M72.7,863.5 L72.7,884.5" stroke="#000" stroke-width="1.5" fill="none"/>
<path d="M120.5,925 L120.5,955.5" stroke="#000" stroke-width="1.5" fill="none"/>
<path d="M71.7,951 L71.7,994.5" stroke="#000" stroke-width="1.5" fill="none"/>
<path d="M127,866.5 L113.2,868.1 L173.8,903.2 L159.4,908" stroke="#000" stroke-width="1.4" fill="none" stroke-dasharray="5 4"/>
<path d="M453,799.5 L522,779" stroke="#000" stroke-width="15" fill="none" stroke-linejoin="round" stroke-linecap="round"/>
<path d="M453,799.5 L522,779" stroke="#fff" stroke-width="11.2" fill="none" stroke-linejoin="round" stroke-linecap="round"/>
<ellipse cx="453.5" cy="799.5" rx="4" ry="7.5" transform="rotate(-16 453.5 799.5)" fill="#fff" stroke="#000" stroke-width="1.6"/>
<ellipse cx="454.0" cy="799.5" rx="1.8" ry="4.125" transform="rotate(-16 453.5 799.5)" fill="none" stroke="#000" stroke-width="1.3"/>
<path d="M470.5,811.5 L540,790.5" stroke="#000" stroke-width="15" fill="none" stroke-linejoin="round" stroke-linecap="round"/>
<path d="M470.5,811.5 L540,790.5" stroke="#fff" stroke-width="11.2" fill="none" stroke-linejoin="round" stroke-linecap="round"/>
<ellipse cx="471" cy="811.5" rx="4" ry="7.5" transform="rotate(-16 471 811.5)" fill="#fff" stroke="#000" stroke-width="1.6"/>
<ellipse cx="471.5" cy="811.5" rx="1.8" ry="4.125" transform="rotate(-16 471 811.5)" fill="none" stroke="#000" stroke-width="1.3"/>
<path d="M493.8,751.5 L493.8,778" stroke="#000" stroke-width="1.5" fill="none"/>
<path d="M510.5,805 L511.3,845.5" stroke="#000" stroke-width="1.5" fill="none"/>
<ellipse cx="422.5" cy="814" rx="6.0" ry="4.8" transform="rotate(-20 422.5 814)" fill="#000"/>
<ellipse cx="424.3" cy="814" rx="1.5" ry="2.16" fill="#fff"/>
<g transform="rotate(-20 427.5 808)"><ellipse cx="427.5" cy="808" rx="5.5" ry="9.5" fill="#fff" stroke="#000" stroke-width="2.3"/><ellipse cx="428.475" cy="808" rx="3.25" ry="7.56" fill="none" stroke="#000" stroke-width="1.8"/><path d="M421.65,813.775 Q427.5,819.55 433.35,813.775" fill="none" stroke="#000" stroke-width="2.2"/></g>
<ellipse cx="452.5" cy="830" rx="7.199999999999999" ry="4.8" transform="rotate(-20 452.5 830)" fill="#000"/>
<ellipse cx="454.66" cy="830" rx="1.7999999999999998" ry="2.16" fill="#fff"/>
<g transform="rotate(-20 446.5 820)"><ellipse cx="446.5" cy="820" rx="5.5" ry="9.5" fill="#fff" stroke="#000" stroke-width="2.3"/><ellipse cx="447.475" cy="820" rx="3.25" ry="7.56" fill="none" stroke="#000" stroke-width="1.8"/><path d="M440.65,825.775 Q446.5,831.55 452.35,825.775" fill="none" stroke="#000" stroke-width="2.2"/></g>
<ellipse cx="555.5" cy="779" rx="6.0" ry="4.2" transform="rotate(-20 555.5 779)" fill="#000"/>
<ellipse cx="557.3" cy="779" rx="1.5" ry="1.8900000000000001" fill="#fff"/>
<g transform="rotate(-20 550.5 771)"><ellipse cx="550.5" cy="771" rx="5.5" ry="9.5" fill="#fff" stroke="#000" stroke-width="2.3"/><ellipse cx="551.475" cy="771" rx="3.25" ry="7.56" fill="none" stroke="#000" stroke-width="1.8"/><path d="M544.65,776.775 Q550.5,782.55 556.35,776.775" fill="none" stroke="#000" stroke-width="2.2"/></g>
<ellipse cx="587.5" cy="788" rx="6.0" ry="4.2" transform="rotate(-20 587.5 788)" fill="#000"/>
<ellipse cx="589.3" cy="788" rx="1.5" ry="1.8900000000000001" fill="#fff"/>
<g transform="rotate(-20 582.5 780)"><ellipse cx="582.5" cy="780" rx="5.5" ry="9.5" fill="#fff" stroke="#000" stroke-width="2.3"/><ellipse cx="583.475" cy="780" rx="3.25" ry="7.56" fill="none" stroke="#000" stroke-width="1.8"/><path d="M576.65,785.775 Q582.5,791.55 588.35,785.775" fill="none" stroke="#000" stroke-width="2.2"/></g>
<path d="M428.8,783 L428.8,798" stroke="#000" stroke-width="1.5" fill="none"/>
<path d="M583.5,790 L583.5,821.5" stroke="#000" stroke-width="1.5" fill="none"/>
<path d="M420,877 L432.2,885.3" stroke="#000" stroke-width="1.4" fill="none" stroke-dasharray="5 4"/>
<ellipse cx="439" cy="889" rx="5.5" ry="4.8" transform="rotate(30 439 889)" fill="#000"/><path d="M441,890 L448,893.5" stroke="#000" stroke-width="4" stroke-linecap="round"/><ellipse cx="438.5" cy="889.5" rx="1.5" ry="1.2" fill="#fff"/>
<path d="M466,897 L470,895.3 L478,895.5 L479.7,899 L479.5,904.5 L476,906 L470,905.5 L466,904 Z" stroke="#000" stroke-width="1.7" fill="#fff" stroke-linejoin="round"/>
<path d="M450,901 L453,899.5 L467,899.8 L469,902 L468.5,910 L465,912 L452,912 L450,910 Z" stroke="#000" stroke-width="1.7" fill="#fff" stroke-linejoin="round"/>
<path d="M455,901 L455,911 M459,903 L464,903 L464,908" stroke="#000" stroke-width="1.3" fill="none"/>
<path d="M436.8,906 L449.8,906" stroke="#000" stroke-width="1.5" fill="none"/>
<path d="M467,930 L472,926.5 L479,926 L481,930 L479.5,937 L472,939 L467,937 Z" stroke="#000" stroke-width="1.8" fill="#fff" stroke-linejoin="round"/>
<ellipse cx="473" cy="932.5" rx="2.5" ry="1.8" fill="none" stroke="#000" stroke-width="1.3"/>
<path d="M476.5,917 L482,916 L487,918 L489,922 L485,925 L478,925.5 L476,921 Z" stroke="#000" stroke-width="1.8" fill="#fff" stroke-linejoin="round"/>
<path d="M476,916 L477,926" stroke="#000" stroke-width="2.6"/>
<ellipse cx="492.5" cy="916.3" rx="5.5" ry="5.5" transform="rotate(0 492.5 916.3)" stroke="#000" stroke-width="1.8" fill="#fff"/>
<ellipse cx="492.5" cy="916.3" rx="2.5" ry="2" fill="none" stroke="#000" stroke-width="1.4"/>
<path d="M497,911 L503,910 L506.5,911 L507.2,917 L504,920.5 L498,920.5 Z" stroke="#000" stroke-width="1.8" fill="#fff" stroke-linejoin="round"/>
<path d="M504,908 L505,913" stroke="#000" stroke-width="2.2"/>
<path d="M507.2,915.2 L518,915.2" stroke="#000" stroke-width="1.5" fill="none"/>
<path d="M452.1,943.5 L452.1,922.8 L464.4,929.7" stroke="#000" stroke-width="1.4" fill="none" stroke-dasharray="4 3"/>
<path d="M461.3,952.7 L481,952.7" stroke="#000" stroke-width="1.5" fill="none"/>
<path d="M178,122.3 L193.5,122.3" stroke="#000" stroke-width="1.5" fill="none"/>
<path d="M460,78 L460,101" stroke="#000" stroke-width="1.5" fill="none"/>
<path d="M503.3,117 L503.3,145" stroke="#000" stroke-width="1.5" fill="none"/>
</g>

<g id="labels">
<text x="68.80" y="126.70" font-size="15.71" textLength="109.82" lengthAdjust="spacingAndGlyphs">91611-60816 (2)</text>
<text x="153.50" y="187.10" font-size="17.93" textLength="61.34" lengthAdjust="spacingAndGlyphs">87240A</text>
<text x="155.00" y="198.00" font-size="11.43" textLength="44.98" lengthAdjust="spacingAndGlyphs">VALVE</text>
<text x="547.70" y="44.90" font-size="13.89" textLength="87.32" lengthAdjust="spacingAndGlyphs">93315-15010</text>
<text x="434.40" y="66.30" font-size="15.87" textLength="62.30" lengthAdjust="spacingAndGlyphs">87249G</text>
<text x="436.10" y="76.70" font-size="9.72" textLength="27.80" lengthAdjust="spacingAndGlyphs">PIPE</text>
<text x="540.80" y="70.90" font-size="13.64" textLength="89.80" lengthAdjust="spacingAndGlyphs">87398-95A00</text>
<text x="616.60" y="121.40" font-size="13.64" textLength="84.88" lengthAdjust="spacingAndGlyphs">87436-95J03</text>
<text x="650.90" y="182.50" font-size="15.65" textLength="86.40" lengthAdjust="spacingAndGlyphs">91611-60816</text>
<text x="333.10" y="165.70" font-size="16.61" textLength="61.30" lengthAdjust="spacingAndGlyphs">87255D</text>
<text x="333.60" y="176.70" font-size="11.57" textLength="34.82" lengthAdjust="spacingAndGlyphs">HOSE</text>
<text x="370.10" y="257.60" font-size="13.89" textLength="86.32" lengthAdjust="spacingAndGlyphs">87124-28040</text>
<text x="478.60" y="159.40" font-size="17.21" textLength="59.82" lengthAdjust="spacingAndGlyphs">87248F</text>
<text x="479.90" y="170.20" font-size="11.52" textLength="27.80" lengthAdjust="spacingAndGlyphs">PIPE</text>
<text x="150.90" y="288.70" font-size="16.63" textLength="58.84" lengthAdjust="spacingAndGlyphs">87256B</text>
<text x="152.10" y="299.40" font-size="11.57" textLength="33.36" lengthAdjust="spacingAndGlyphs">HOSE</text>
<text x="67.50" y="322.40" font-size="14.05" textLength="85.86" lengthAdjust="spacingAndGlyphs">96112-10220</text>
<text x="322.00" y="305.50" font-size="15.65" textLength="86.84" lengthAdjust="spacingAndGlyphs">96112-10220</text>
<text x="300.30" y="335.60" font-size="17.21" textLength="60.82" lengthAdjust="spacingAndGlyphs">87255C</text>
<text x="302.10" y="346.80" font-size="11.60" textLength="33.86" lengthAdjust="spacingAndGlyphs">HOSE</text>
<text x="246.60" y="371.80" font-size="13.89" textLength="89.36" lengthAdjust="spacingAndGlyphs">87124-28040</text>
<text x="402.10" y="387.10" font-size="14.05" textLength="87.30" lengthAdjust="spacingAndGlyphs">96112-10220</text>
<text x="545.90" y="313.30" font-size="15.95" textLength="62.34" lengthAdjust="spacingAndGlyphs">87256A</text>
<text x="547.90" y="324.00" font-size="10.88" textLength="33.90" lengthAdjust="spacingAndGlyphs">HOSE</text>
<text x="606.80" y="344.10" font-size="15.95" textLength="84.38" lengthAdjust="spacingAndGlyphs">96112-10220</text>
<text x="544.30" y="444.80" font-size="15.32" textLength="57.36" lengthAdjust="spacingAndGlyphs">87255E</text>
<text x="545.30" y="456.80" font-size="12.86" textLength="33.90" lengthAdjust="spacingAndGlyphs">HOSE</text>
<text x="463.10" y="506.80" font-size="15.14" textLength="52.90" lengthAdjust="spacingAndGlyphs">(8608–</text>
<text x="560.00" y="506.80" font-size="15.14" textLength="4.40" lengthAdjust="spacingAndGlyphs">)</text>
<text x="290.60" y="532.60" font-size="15.87" textLength="59.80" lengthAdjust="spacingAndGlyphs">87249B</text>
<text x="291.50" y="543.10" font-size="12.18" textLength="26.82" lengthAdjust="spacingAndGlyphs">PIPE</text>
<text x="618.70" y="551.60" font-size="17.14" textLength="57.82" lengthAdjust="spacingAndGlyphs">87249B</text>
<text x="20.85" y="591.25" font-size="14.29" textLength="85.05" lengthAdjust="spacingAndGlyphs">87436-95J07</text>
<text x="11.60" y="628.75" font-size="15.01" textLength="86.80" lengthAdjust="spacingAndGlyphs">91611-60816</text>
<text x="149.50" y="683.50" font-size="15.17" textLength="85.86" lengthAdjust="spacingAndGlyphs">91611-60816</text>
<text x="64.10" y="710.60" font-size="13.64" textLength="89.32" lengthAdjust="spacingAndGlyphs">87398-95A00</text>
<text x="158.50" y="745.70" font-size="13.64" textLength="84.86" lengthAdjust="spacingAndGlyphs">87436-95J13</text>
<text x="242.00" y="717.90" font-size="13.64" textLength="85.34" lengthAdjust="spacingAndGlyphs">87436-95J07</text>
<text x="232.10" y="781.25" font-size="14.65" textLength="86.65" lengthAdjust="spacingAndGlyphs">91611-60816</text>
<text x="468.70" y="739.50" font-size="16.61" textLength="63.32" lengthAdjust="spacingAndGlyphs">87256C</text>
<text x="469.90" y="749.80" font-size="12.18" textLength="34.86" lengthAdjust="spacingAndGlyphs">HOSE</text>
<text x="384.90" y="782.20" font-size="14.05" textLength="85.82" lengthAdjust="spacingAndGlyphs">96112-10220</text>
<text x="607.50" y="802.80" font-size="17.29" textLength="59.82" lengthAdjust="spacingAndGlyphs">87248D</text>
<text x="608.30" y="813.90" font-size="10.79" textLength="27.40" lengthAdjust="spacingAndGlyphs">PIPE</text>
<text x="538.30" y="833.60" font-size="16.63" textLength="86.80" lengthAdjust="spacingAndGlyphs">87124-28040</text>
<text x="485.70" y="863.30" font-size="16.50" textLength="60.84" lengthAdjust="spacingAndGlyphs">87255B</text>
<text x="486.90" y="873.00" font-size="12.22" textLength="34.86" lengthAdjust="spacingAndGlyphs">HOSE</text>
<text x="645.50" y="750.60" font-size="16.00" textLength="107.86" lengthAdjust="spacingAndGlyphs">91611-60816 (2)</text>
<text x="59.10" y="817.10" font-size="16.63" textLength="86.80" lengthAdjust="spacingAndGlyphs">87124-28040</text>
<text x="47.60" y="896.80" font-size="16.63" textLength="62.30" lengthAdjust="spacingAndGlyphs">87255A</text>
<text x="48.50" y="908.00" font-size="11.60" textLength="35.36" lengthAdjust="spacingAndGlyphs">HOSE</text>
<text x="94.80" y="968.60" font-size="16.57" textLength="59.80" lengthAdjust="spacingAndGlyphs">87256E</text>
<text x="95.70" y="980.40" font-size="13.60" textLength="34.40" lengthAdjust="spacingAndGlyphs">HOSE</text>
<text x="28.40" y="1005.90" font-size="15.65" textLength="86.34" lengthAdjust="spacingAndGlyphs">96112-10220</text>
<text x="287.10" y="826.80" font-size="14.71" textLength="59.80" lengthAdjust="spacingAndGlyphs">87249C</text>
<text x="287.90" y="837.50" font-size="11.43" textLength="25.90" lengthAdjust="spacingAndGlyphs">PIPE</text>
<text x="280.40" y="934.80" font-size="17.14" textLength="59.80" lengthAdjust="spacingAndGlyphs">87248B</text>
<text x="280.40" y="945.00" font-size="11.43" textLength="28.32" lengthAdjust="spacingAndGlyphs">PIPE</text>
<text x="345.10" y="910.70" font-size="13.89" textLength="89.84" lengthAdjust="spacingAndGlyphs">87398-95A00</text>
<text x="520.10" y="919.70" font-size="15.29" textLength="85.80" lengthAdjust="spacingAndGlyphs">87436-95J22</text>
<text x="481.10" y="957.10" font-size="14.05" textLength="88.82" lengthAdjust="spacingAndGlyphs">91611-60816</text>
<text x="669.40" y="1001.60" font-size="15.65" textLength="21.34" lengthAdjust="spacingAndGlyphs">ME</text>
<text x="698.40" y="1001.60" font-size="15.65" textLength="51.28" lengthAdjust="spacingAndGlyphs">C795-G</text>
<text x="117.10" y="477.10" font-size="18.29" textLength="58.84" lengthAdjust="spacingAndGlyphs">−8608)</text>
</g>
<g id="kome"><g class="k"><path d="M42.9 464.5L58.0 478.5M58.0 464.5L42.9 478.5"/><circle cx="50.5" cy="467.6" r="2.0"/><circle cx="50.5" cy="475.4" r="2.0"/><circle cx="46.2" cy="471.5" r="2.0"/><circle cx="54.7" cy="471.5" r="2.0"/></g>
<g class="k"><path d="M261.2 519.5L276.0 532.6M276.0 519.5L261.2 532.6"/><circle cx="268.6" cy="522.4" r="1.8"/><circle cx="268.6" cy="529.7" r="1.8"/><circle cx="264.5" cy="526.0" r="1.8"/><circle cx="272.7" cy="526.0" r="1.8"/></g>
<g class="k"><path d="M21.8 568.8L32.0 578.8M32.0 568.8L21.8 578.8"/><circle cx="26.9" cy="571.0" r="1.4"/><circle cx="26.9" cy="576.5" r="1.4"/><circle cx="24.0" cy="573.8" r="1.4"/><circle cx="29.7" cy="573.8" r="1.4"/></g>
<g class="k"><path d="M12.5 605.0L22.5 614.5M22.5 605.0L12.5 614.5"/><circle cx="17.5" cy="607.1" r="1.3"/><circle cx="17.5" cy="612.4" r="1.3"/><circle cx="14.7" cy="609.8" r="1.3"/><circle cx="20.3" cy="609.8" r="1.3"/></g>
<g class="k"><path d="M221.0 708.5L232.0 717.9M232.0 708.5L221.0 717.9"/><circle cx="226.5" cy="710.6" r="1.3"/><circle cx="226.5" cy="715.8" r="1.3"/><circle cx="223.4" cy="713.2" r="1.3"/><circle cx="229.6" cy="713.2" r="1.3"/></g>
<g class="k"><path d="M206.8 771.6L217.9 781.2M217.9 771.6L206.8 781.2"/><circle cx="212.4" cy="773.7" r="1.4"/><circle cx="212.4" cy="779.1" r="1.4"/><circle cx="209.2" cy="776.4" r="1.4"/><circle cx="215.5" cy="776.4" r="1.4"/></g>
<g class="k"><path d="M640.0 772.0L656.0 786.2M656.0 772.0L640.0 786.2"/><circle cx="648.0" cy="775.1" r="2.0"/><circle cx="648.0" cy="783.1" r="2.0"/><circle cx="643.5" cy="779.1" r="2.0"/><circle cx="652.5" cy="779.1" r="2.0"/></g></g>
<g id="ones"><rect x="65.2" y="463.2" width="2.7" height="15.3"/><path d="M65.2 463.2l-2 2.5v1.4l2-1.5z"/>
<rect x="282.5" y="517.5" width="3.2" height="15.5"/><path d="M282.5 517.5l-2 2.5v1.4l2-1.5z"/>
<rect x="36.5" y="568.0" width="2.6" height="10.8"/><path d="M36.5 568.0l-2 2.5v1.4l2-1.5z"/>
<rect x="28.0" y="604.5" width="2.8" height="10.0"/><path d="M28.0 604.5l-2 2.5v1.4l2-1.5z"/>
<rect x="237.0" y="708.0" width="2.6" height="9.9"/><path d="M237.0 708.0l-2 2.5v1.4l2-1.5z"/>
<rect x="220.3" y="771.5" width="2.6" height="9.8"/><path d="M220.3 771.5l-2 2.5v1.4l2-1.5z"/>
<rect x="660.7" y="771.5" width="4.2" height="14.7"/><path d="M660.7 771.5l-2 2.5v1.4l2-1.5z"/></g>
<g id="circles"><circle class="c" cx="201.6" cy="122.5" r="7.8"/><text class="ct" x="201.79999999999998" y="127.5" text-anchor="middle">B</text>
<circle class="c" cx="658" cy="39.5" r="7.8"/><text class="ct" x="658.2" y="44.5" text-anchor="middle">S</text>
<circle class="c" cx="695.2" cy="149.3" r="7.8"/><text class="ct" x="695.4000000000001" y="154.3" text-anchor="middle">B</text>
<circle class="c" cx="124.4" cy="623.75" r="7.8"/><text class="ct" x="124.60000000000001" y="628.75" text-anchor="middle">B</text>
<circle class="c" cx="117.9" cy="682.5" r="7.8"/><text class="ct" x="118.10000000000001" y="687.5" text-anchor="middle">B</text>
<circle class="c" cx="351.5" cy="774.2" r="7.8"/><text class="ct" x="351.7" y="779.2" text-anchor="middle">B</text>
<circle class="c" cx="686.2" cy="691.7" r="7.8"/><text class="ct" x="686.4000000000001" y="696.7" text-anchor="middle">B</text>
<circle class="c" cx="453.6" cy="952.7" r="7.8"/><text class="ct" x="453.8" y="957.7" text-anchor="middle">B</text></g>
</svg>
</body></html>
